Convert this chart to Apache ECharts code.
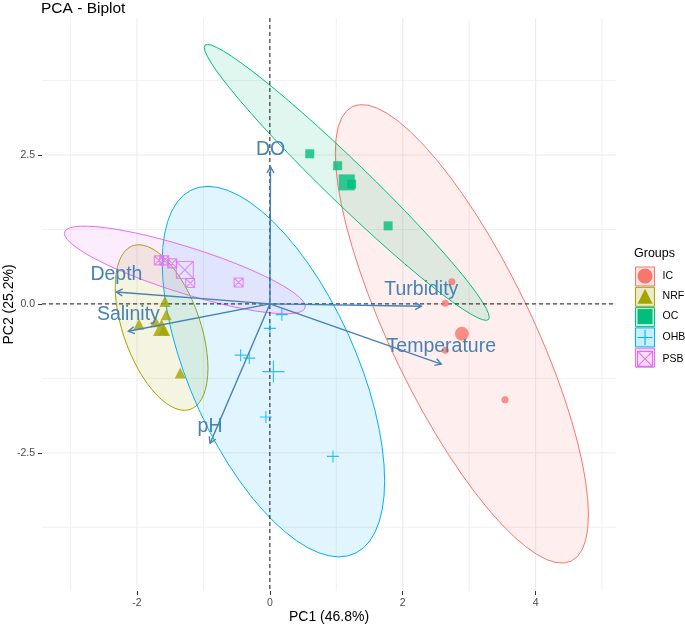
<!DOCTYPE html>
<html><head><meta charset="utf-8">
<script src="https://cdn.jsdelivr.net/npm/echarts@6/dist/echarts.min.js"></script>
<style>html,body{margin:0;padding:0;background:#fff}#c{width:685px;height:627px}</style>
</head><body><div id="c"></div>
<script>
// ---------------- data ----------------
const groups = ['IC', 'NRF', 'OC', 'OHB', 'PSB'];
const groupColors = ['#F8766D', '#A3A500', '#00BF7D', '#00B0F6', '#E76BF3'];

const IC_x  = [2.74, 2.64, 2.64, 3.54];
const IC_y  = [0.37, 0.01, -0.78, -1.61];
const NRF_x = [-1.58, -1.56, -1.97, -1.72, -1.60, -1.35];
const NRF_y = [0.04, -0.18, -0.34, -0.30, -0.44, -1.16];
const OC_x  = [0.60, 1.02, 1.23, 1.78];
const OC_y  = [2.52, 2.32, 2.01, 1.31];
const OHB_x = [0.18, 0.00, -0.44, -0.31, -0.06, 0.95];
const OHB_y = [-0.18, -0.41, -0.86, -0.91, -1.90, -2.56];
const PSB_x = [-1.59, -1.67, -1.47, -1.20, -0.47];
const PSB_y = [0.73, 0.73, 0.68, 0.35, 0.36];

const loadingNames = ['DO', 'Depth', 'Salinity', 'pH', 'Turbidity', 'Temperature'];
const loadingX = [0.01, -2.31, -2.13, -0.90, 2.28, 2.58];
const loadingY = [2.30, 0.20, -0.46, -2.34, -0.04, -1.01];

const xTicks = [-2, 0, 2, 4];
const xMinor = [-3, -1, 1, 3, 5];
const yTicks = [-2.5, 0, 2.5];
const yMinor = [-3.75, -1.25, 1.25, 3.75];

const groupX = [IC_x, NRF_x, OC_x, OHB_x, PSB_x];
const groupY = [IC_y, NRF_y, OC_y, OHB_y, PSB_y];

// ---------------- styling ----------------
const FONT = '"Liberation Sans", Arial, sans-serif';
const LOAD_COLOR = '#4682B4';
const PLUS = 'path://M5,0 L5,10 M0,5 L10,5';
const SQX = 'path://M0,0 L10,0 L10,10 L0,10 Z M0,0 L10,10 M10,0 L0,10';
const symbols = ['circle', 'triangle', 'rect', PLUS, SQX];
const stroked = [false, false, false, true, true];
const smallSize = [7, 11, 9, 12, 9];
const bigSize = [14, 17, 16, 22, 17];

function mean(a) { return a.reduce((s, v) => s + v, 0) / a.length; }
function rgba(hex, a) {
  const n = parseInt(hex.slice(1), 16);
  return 'rgba(' + (n >> 16 & 255) + ',' + (n >> 8 & 255) + ',' + (n & 255) + ',' + a + ')';
}
// normal-theory 95% data ellipse (like stat_ellipse type = "norm")
function ellipse(xs, ys, level, seg) {
  const n = xs.length, mx = mean(xs), my = mean(ys);
  let a = 0, b = 0, c = 0;
  for (let i = 0; i < n; i++) {
    const dx = xs[i] - mx, dy = ys[i] - my;
    a += dx * dx; b += dx * dy; c += dy * dy;
  }
  a /= (n - 1); b /= (n - 1); c /= (n - 1);
  const d2 = n - 1;
  const f = (d2 / 2) * (Math.pow(1 - level, -2 / d2) - 1);
  const r = Math.sqrt(2 * f);
  const R11 = Math.sqrt(a), R12 = b / R11, R22 = Math.sqrt(Math.max(c - b * b / a, 0));
  const pts = [];
  for (let k = 0; k <= seg; k++) {
    const t = 2 * Math.PI * k / seg, ct = Math.cos(t), st = Math.sin(t);
    pts.push([mx + r * ct * R11, my + r * (ct * R12 + st * R22)]);
  }
  return pts;
}

const series = [];

// grid lines
series.push({
  type: 'custom', silent: true, z: 0, data: [[0, 0]],
  renderItem(params, api) {
    const cs = params.coordSys, ch = [];
    const vline = (v, color, w) => { const p = api.coord([v, 0]); ch.push({ type: 'line', shape: { x1: p[0], y1: cs.y, x2: p[0], y2: cs.y + cs.height }, style: { stroke: color, lineWidth: w } }); };
    const hline = (v, color, w) => { const p = api.coord([0, v]); ch.push({ type: 'line', shape: { x1: cs.x, y1: p[1], x2: cs.x + cs.width, y2: p[1] }, style: { stroke: color, lineWidth: w } }); };
    xMinor.forEach(v => vline(v, '#F1F1F1', 1));
    yMinor.forEach(v => hline(v, '#F1F1F1', 1));
    xTicks.forEach(v => vline(v, '#EBEBEB', 1));
    yTicks.forEach(v => hline(v, '#EBEBEB', 1));
    return { type: 'group', children: ch };
  }
});

// ellipses
groups.forEach((g, i) => {
  const pts = ellipse(groupX[i], groupY[i], 0.95, 60);
  series.push({
    type: 'custom', name: g, silent: true, z: 1, data: [[mean(groupX[i]), mean(groupY[i])]],
    renderItem(params, api) {
      return {
        type: 'polygon',
        shape: { points: pts.map(p => api.coord(p)) },
        style: { fill: rgba(groupColors[i], 0.12), stroke: groupColors[i], lineWidth: 1 }
      };
    }
  });
});

// dashed zero lines
series.push({
  type: 'custom', silent: true, z: 2, data: [[0, 0]],
  renderItem(params, api) {
    const cs = params.coordSys, o = api.coord([0, 0]);
    const st = { stroke: '#000', lineWidth: 0.9, lineDash: [4, 3] };
    return { type: 'group', children: [
      { type: 'line', shape: { x1: o[0], y1: cs.y, x2: o[0], y2: cs.y + cs.height }, style: st },
      { type: 'line', shape: { x1: cs.x, y1: o[1], x2: cs.x + cs.width, y2: o[1] }, style: st }
    ] };
  }
});

// points + group means
groups.forEach((g, i) => {
  const is = stroked[i] ? { color: 'rgba(0,0,0,0)', borderColor: groupColors[i], borderWidth: 1.1 } : { color: groupColors[i] };
  series.push({
    type: 'scatter', name: g, z: 3, silent: true, symbol: symbols[i], symbolSize: smallSize[i],
    itemStyle: is, data: groupX[i].map((x, k) => [x, groupY[i][k]])
  });
  series.push({
    type: 'scatter', name: g, z: 3, silent: true, symbol: symbols[i], symbolSize: bigSize[i],
    itemStyle: is, data: [[mean(groupX[i]), mean(groupY[i])]]
  });
});

// loadings arrows + labels
series.push({
  type: 'custom', silent: true, z: 5,
  data: loadingNames.map((n, i) => [loadingX[i], loadingY[i]]),
  renderItem(params, api) {
    const o = api.coord([0, 0]);
    const e = api.coord([api.value(0), api.value(1)]);
    const ang = Math.atan2(e[1] - o[1], e[0] - o[0]);
    const L = 7, A = Math.PI / 6;
    const h1 = [e[0] - L * Math.cos(ang - A), e[1] - L * Math.sin(ang - A)];
    const h2 = [e[0] - L * Math.cos(ang + A), e[1] - L * Math.sin(ang + A)];
    return { type: 'group', children: [
      { type: 'line', shape: { x1: o[0], y1: o[1], x2: e[0], y2: e[1] }, style: { stroke: LOAD_COLOR, lineWidth: 1.4 } },
      { type: 'polyline', shape: { points: [h1, e, h2] }, style: { stroke: LOAD_COLOR, lineWidth: 1.4, fill: null } },
      { type: 'text', x: e[0], y: e[1] - 17, style: { text: loadingNames[params.dataIndex], fill: LOAD_COLOR, fontSize: 19.5, fontFamily: FONT, align: 'center', verticalAlign: 'middle' } }
    ] };
  }
});

const legendTop = 268.5, legendStep = 20.3;

const option = {
  animation: false,
  backgroundColor: '#fff',
  textStyle: { fontFamily: FONT },
  title: [
    { text: 'PCA - Biplot', left: 41, top: 1, padding: 0, textStyle: { fontSize: 15.5, fontWeight: 'normal', color: '#000', fontFamily: FONT } },
    { text: 'Groups', left: 634, top: 247, padding: 0, textStyle: { fontSize: 12.5, fontWeight: 'normal', color: '#000', fontFamily: FONT } }
  ],
  grid: { left: 42, right: 69, top: 18, bottom: 36, containLabel: false, outerBoundsMode: 'none' },
  xAxis: {
    type: 'value', min: -3.43, max: 5.21,
    name: 'PC1 (46.8%)', nameLocation: 'middle', nameGap: 19, nameMoveOverlap: false,
    nameTextStyle: { fontSize: 14, color: '#000', fontFamily: FONT },
    axisLine: { show: false, onZero: false },
    axisTick: { show: true, customValues: xTicks, length: 4, lineStyle: { color: '#333', width: 1 } },
    axisLabel: { customValues: xTicks, color: '#4D4D4D', fontSize: 10.5, margin: 7, formatter: v => String(v) },
    splitLine: { show: false }, minorSplitLine: { show: false }
  },
  yAxis: {
    type: 'value', min: -4.82, max: 4.80,
    name: 'PC2 (25.2%)', nameLocation: 'middle', nameGap: 26, nameRotate: 90, nameMoveOverlap: false,
    nameTextStyle: { fontSize: 14, color: '#000', fontFamily: FONT },
    axisLine: { show: false, onZero: false },
    axisTick: { show: true, customValues: yTicks, length: 4, lineStyle: { color: '#333', width: 1 } },
    axisLabel: { customValues: yTicks, color: '#4D4D4D', fontSize: 10.5, margin: 7, formatter: v => v.toFixed(1) },
    splitLine: { show: false }
  },
  legend: {
    orient: 'vertical', left: 637, top: legendTop, padding: 0,
    itemWidth: 15, itemHeight: 15, itemGap: legendStep - 15, selectedMode: false,
    textStyle: { fontSize: 10.5, color: '#000', fontFamily: FONT, padding: [0, 0, 0, 5] },
    data: groups.map((g, i) => ({
      name: g, icon: symbols[i],
      itemStyle: stroked[i] ? { color: 'rgba(0,0,0,0)', borderColor: groupColors[i], borderWidth: 1.1 } : { color: groupColors[i], borderWidth: 0 }
    }))
  },
  graphic: groups.map((g, i) => ({
    type: 'rect', left: 635, top: legendTop + 7.5 - 9.5 + i * legendStep, z: 0, silent: true,
    shape: { width: 19, height: 19 },
    style: { fill: rgba(groupColors[i], 0.22), stroke: groupColors[i], lineWidth: 1 }
  })),
  series: series
};

const chart = echarts.init(document.getElementById('c'), null, { renderer: 'canvas' });
chart.setOption(option);
</script>
</body></html>
